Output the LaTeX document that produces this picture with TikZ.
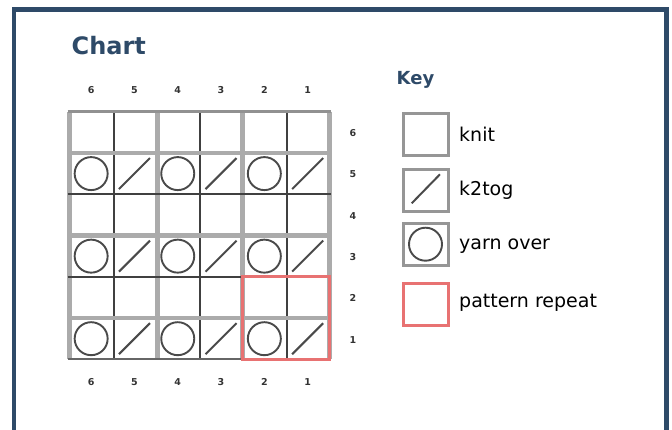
\documentclass[tikz,border=0pt]{standalone}
\usepackage{fontspec}
\setmainfont{DejaVu Sans}
\definecolor{navy}{HTML}{2E4A68}
\definecolor{thickgray}{HTML}{ABABAB}
\definecolor{thingray}{HTML}{404040}
\definecolor{symgray}{HTML}{4A4A4A}
\definecolor{keygray}{HTML}{969696}
\definecolor{repred}{HTML}{E87272}
\tikzset{
  thickline/.style={draw=thickgray, line width=4.5pt},
  thinline/.style={draw=thingray, line width=2pt},
  yo/.style={circle, draw=symgray, line width=1.9pt, minimum size=33pt, inner sep=0pt},
  slash/.style={draw=symgray, line width=2pt},
  cell/.style={minimum width=43.3pt, minimum height=41.3pt, inner sep=0pt},
  num/.style={font=\fontsize{9.5}{9.5}\selectfont\bfseries, text=black!80, inner sep=0pt},
  keybox/.style={draw=keygray, line width=3pt, minimum width=45pt, minimum height=42pt, inner sep=0pt},
  keylabel/.style={anchor=west, font=\fontsize{19}{20}\selectfont, inner sep=0pt},
  heading/.style={anchor=base west, text=navy, font=\bfseries, inner sep=0pt}
}
\begin{document}
\begin{tikzpicture}[x=1pt, y=-1pt]
\clip (0,0) rectangle (672,430);
\fill[white] (0,0) rectangle (672,430);
% frame
\draw[navy, line width=4.5pt] (14.2,460) -- (14.2,9.4) -- (666.5,9.4) -- (666.5,460);
% title
\node[heading, font=\fontsize{24}{24}\selectfont\bfseries] (title) at (71.5,54.3) {Chart};
\node[heading, font=\fontsize{18}{18}\selectfont\bfseries] (keytitle) at (396.5,85) {Key};
% cells as nodes (columns 6..1 left to right, rows 6..1 top to bottom)
\foreach \c [count=\i] in {6,5,4,3,2,1} {
  \foreach \r [count=\j] in {6,5,4,3,2,1} {
    \node[cell] (c\c r\r) at ({69.5+43.3*(\i-0.5)},{111.7+41.27*(\j-0.5)}) {};
  }
}
% grid lines
\foreach \x in {69.5,157.3,242.7,329.3} \draw[thickline] (\x,111.7) -- (\x,359.3);
\foreach \x in {114.3,200,286.7} \draw[thinline] (\x,111.7) -- (\x,359.3);
\foreach \y in {152.9,235.5,318} \draw[thickline] (67.5,\y) -- (331.3,\y);
\foreach \y in {194.2,276.8} \draw[thinline] (67.5,\y) -- (331.3,\y);
\draw[draw=thickgray!85!black, line width=2.5pt] (67.5,111.7) -- (331.3,111.7);
\draw[draw=thingray!80!white, line width=2.2pt] (67.5,359.3) -- (331.3,359.3);
% symbols
\foreach \r in {5,3,1} {
  \foreach \c in {6,4,2} \node[yo] (yo\c r\r) at (c\c r\r) {};
  \foreach \c in {5,3,1} \draw[slash] ([shift={(-15.5,15.5)}]c\c r\r.center) -- ([shift={(15.5,-15.5)}]c\c r\r.center);
}
% pattern repeat
\draw[repred, line width=2.2pt] (c2r2.north west) rectangle (c1r1.south east);
% numbers
\foreach \c [count=\i] in {6,5,4,3,2,1} {
  \node[num] (top\c) at ({69.5+43.3*(\i-0.5)},90) {\c};
  \node[num] (bot\c) at ({69.5+43.3*(\i-0.5)},381.7) {\c};
}
\foreach \r [count=\j] in {6,5,4,3,2,1} \node[num] (row\r) at (353,{111.7+41.27*(\j-0.5)+1}) {\r};
% key
\node[keybox] (kknit) at (425.5,134.7) {};
\node[keybox] (kk2tog) at (425.5,190.5) {};
\draw[slash] ([shift={(-13.8,12.8)}]kk2tog.center) -- ([shift={(14.5,-16.2)}]kk2tog.center);
\node[keybox] (kyo) at (425.5,244.2) {};
\node[yo, minimum size=33pt] (kyoc) at (kyo.center) {};
\node[keybox, draw=repred] (krep) at (425.5,304.5) {};
\node[keylabel] (lknit) at (459,134) {knit};
\node[keylabel] (lk2tog) at (459,190) {k2tog};
\node[keylabel] (lyo) at (459,246.5) {yarn over};
\node[keylabel] (lrep) at (459,303) {pattern repeat};
\end{tikzpicture}
\end{document}
